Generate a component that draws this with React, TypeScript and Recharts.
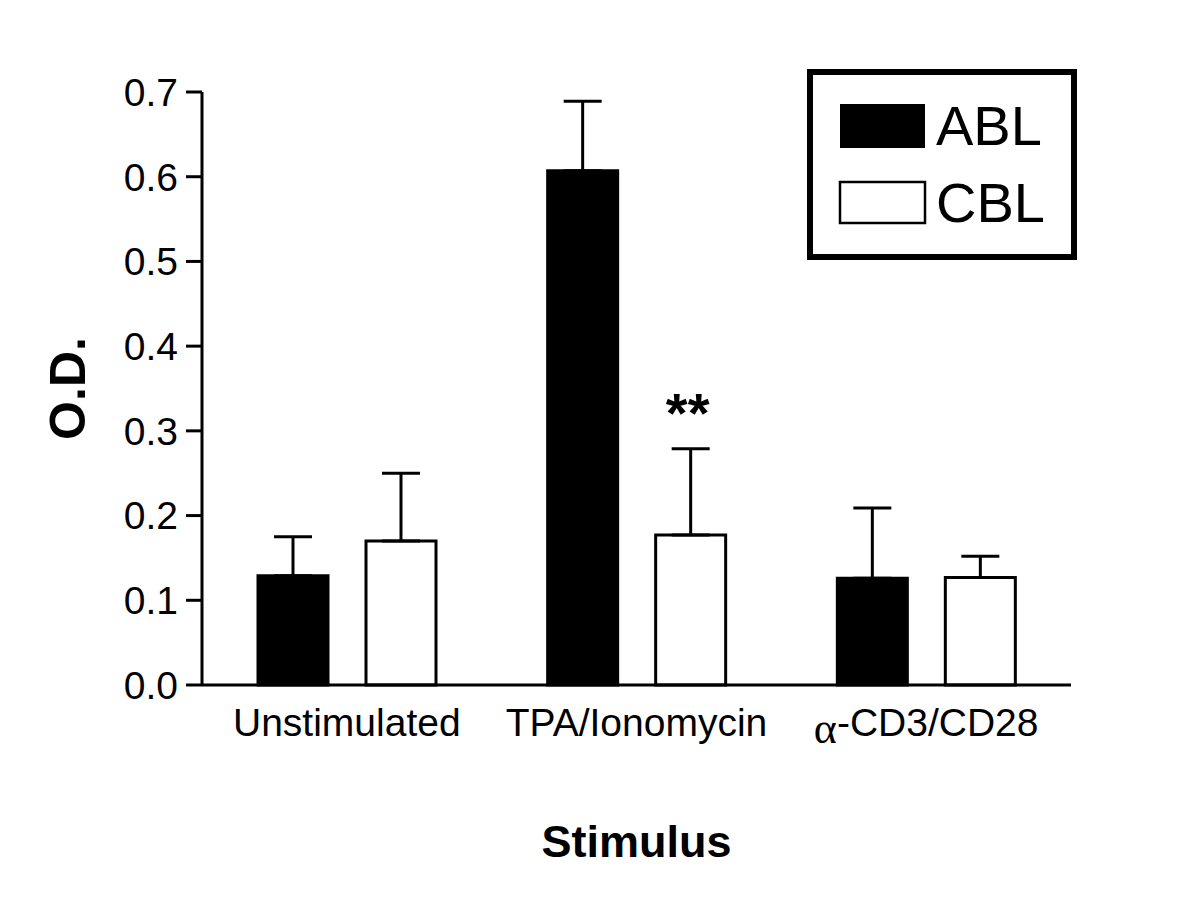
import React from 'react';
import { BarChart, Bar, XAxis, YAxis, ErrorBar, Legend, LabelList, Label } from 'recharts';

const categories = ['Unstimulated', 'TPA/Ionomycin', 'α-CD3/CD28'];
const ablValues = [0.129, 0.607, 0.126];
const ablErrors = [0.046, 0.082, 0.083];
const cblValues = [0.170, 0.177, 0.127];
const cblErrors = [0.080, 0.102, 0.025];
const cblSignificance = ['', '**', ''];
const yTicks = [0, 0.1, 0.2, 0.3, 0.4, 0.5, 0.6, 0.7];

const data = categories.map((name, i) => ({
  name,
  ABL: ablValues[i],
  ablErr: [0, ablErrors[i]],
  CBL: cblValues[i],
  cblErr: [0, cblErrors[i]],
  sig: cblSignificance[i],
}));

const FONT = '"Liberation Sans", Arial, sans-serif';

const CategoryTick = (props: any) => {
  const { x, y, payload } = props;
  const v: string = payload.value;
  if (v.startsWith('α')) {
    return (
      <text x={x} y={y + 51} textAnchor="middle" fontSize={39} fill="#000" fontFamily={FONT}>
        <tspan fontFamily='"Liberation Serif", serif' fontSize={44} dy={7}>α</tspan>
        <tspan dy={-7}>{v.slice(1)}</tspan>
      </text>
    );
  }
  return (
    <text x={x} y={y + 51} textAnchor="middle" fontSize={39} fill="#000" fontFamily={FONT}>
      {v}
    </text>
  );
};

const SigLabel = (props: any) => {
  const vb = props.viewBox || props;
  const { x, y, width, height } = vb;
  const value = props.value;
  if (!value) return null;
  const idx = typeof props.index === 'number' ? props.index : cblSignificance.indexOf(value);
  const errPx = (height * cblErrors[idx]) / cblValues[idx];
  return (
    <text
      x={x + width / 2 - 3}
      y={y - errPx - 17}
      textAnchor="middle"
      fontSize={56}
      fontWeight="bold"
      fill="#000"
      fontFamily={FONT}
    >
      {value}
    </text>
  );
};

const legendStyles: Record<string, { fill: string; stroke: string; sw: number }> = {
  ABL: { fill: '#000', stroke: '#000', sw: 0 },
  CBL: { fill: '#fff', stroke: '#000', sw: 2.5 },
};

const LegendBox = (props: any) => {
  const payload = props.payload || [];
  return (
    <svg width={270} height={191} style={{ display: 'block' }}>
      <rect x={3} y={3} width={264} height={185} fill="#fff" stroke="#000" strokeWidth={6} />
      {payload.map((entry: any, i: number) => {
        const st = legendStyles[entry.value] || legendStyles.ABL;
        const top = i === 0 ? 34 : 112;
        return (
          <g key={entry.value}>
            <rect
              x={33}
              y={top + 1}
              width={85}
              height={i === 0 ? 44 : 41}
              fill={st.fill}
              stroke={st.stroke}
              strokeWidth={st.sw}
            />
            <text x={129} y={i === 0 ? 76 : 153} fontSize={56} fill="#000" fontFamily={FONT}>
              {entry.value}
            </text>
          </g>
        );
      })}
    </svg>
  );
};

export default function App() {
  return (
    <div style={{ position: 'absolute', left: 0, top: 0, width: 1200, height: 909, background: '#fff', fontFamily: FONT }}>
      <BarChart
        width={1200}
        height={909}
        data={data}
        margin={{ top: 92, right: 129, bottom: 0, left: 0 }}
        barSize={70}
        barGap={38}
      >
        <XAxis
          dataKey="name"
          height={224}
          axisLine={{ stroke: '#000', strokeWidth: 3 }}
          tickLine={false}
          tickSize={0}
          tickMargin={0}
          tick={<CategoryTick />}
          interval={0}
        >
          <Label
            content={(p: any) => {
              const vb = p.viewBox;
              return (
                <text
                  x={vb.x + vb.width / 2}
                  y={vb.y + 172}
                  textAnchor="middle"
                  fontSize={45}
                  fontWeight="bold"
                  fill="#000"
                  fontFamily={FONT}
                >
                  Stimulus
                </text>
              );
            }}
          />
        </XAxis>
        <YAxis
          width={202}
          domain={[0, 0.7]}
          ticks={yTicks}
          tickFormatter={(v: number) => v.toFixed(1)}
          axisLine={{ stroke: '#000', strokeWidth: 3 }}
          tickLine={{ stroke: '#000', strokeWidth: 3 }}
          tickSize={16}
          tickMargin={8}
          tick={{ fontSize: 39, fill: '#000', fontFamily: FONT }}
          interval={0}
        >
          <Label
            content={(p: any) => {
              const vb = p.viewBox;
              const cx = vb.x + 68;
              const cy = vb.y + vb.height / 2;
              return (
                <text
                  x={cx}
                  y={cy}
                  transform={`rotate(-90, ${cx}, ${cy})`}
                  textAnchor="middle"
                  dominantBaseline="central"
                  fontSize={50}
                  fontWeight="bold"
                  fill="#000"
                  fontFamily={FONT}
                >
                  O.D.
                </text>
              );
            }}
          />
        </YAxis>
        <Legend
          layout="horizontal"
          verticalAlign="middle"
          align="center"
          content={<LegendBox />}
          wrapperStyle={{ position: 'absolute', left: 807, top: 69, width: 270, height: 191 }}
        />
        <Bar dataKey="ABL" name="ABL" fill="#000" stroke="#000" strokeWidth={3} isAnimationActive={false}>
          <ErrorBar dataKey="ablErr" width={19} stroke="#000" strokeWidth={3} direction="y" />
        </Bar>
        <Bar dataKey="CBL" name="CBL" fill="#fff" stroke="#000" strokeWidth={3} isAnimationActive={false}>
          <ErrorBar dataKey="cblErr" width={19} stroke="#000" strokeWidth={3} direction="y" />
          <LabelList dataKey="sig" content={<SigLabel />} />
        </Bar>
      </BarChart>
    </div>
  );
}
